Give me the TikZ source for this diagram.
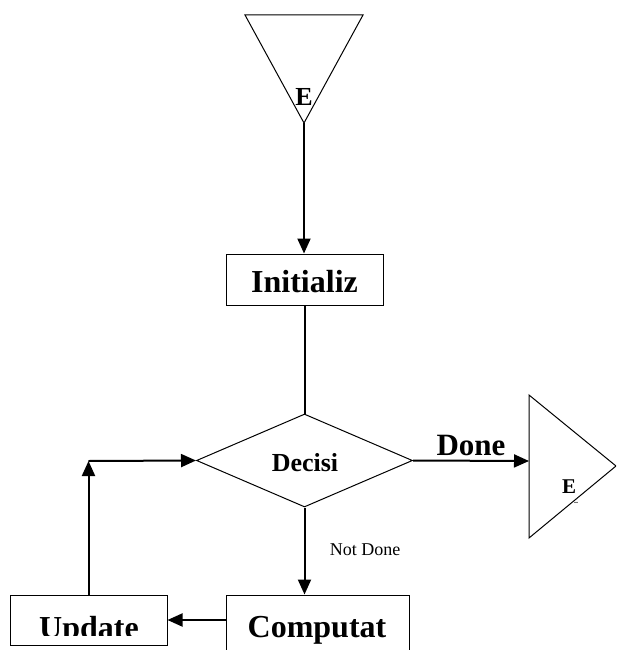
\documentclass[tikz,border=0pt]{standalone}
\usepackage{fontspec}
\setmainfont{Liberation Serif}
\usetikzlibrary{arrows.meta,shapes.geometric}
\tikzset{
  outl/.style={draw=black, line width=1pt},
  boxnode/.style={outl, rectangle, inner sep=0pt},
  conn/.style={draw=black, line width=2pt},
  arr/.style={conn, -{Triangle[length=15pt,width=13pt]}},
  bigtxt/.style={font=\fontsize{32}{32}\selectfont\bfseries, inner sep=0pt},
}
\begin{document}
\begin{tikzpicture}[x=1pt,y=-1pt]
\useasboundingbox (0,0) rectangle (616,650);
\clip (0,0) rectangle (616,650);
% start triangle
\coordinate (s1) at (245,15);
\coordinate (s2) at (363,15);
\coordinate (sapex) at (304,123);
\draw[outl, line join=miter] (s1) -- (s2) -- (sapex) -- cycle;
\node[font=\fontsize{26}{26}\selectfont\bfseries, inner sep=0pt] (startE) at (304,97) {E};
% initialize box
\node[boxnode, minimum width=157pt, minimum height=51pt] (init) at (304.5,279.5) {};
\node[bigtxt, anchor=base] (initT) at (304.5,292) {Initializ};
% decision diamond
\node[outl, diamond, minimum width=216pt, minimum height=93pt, inner sep=0pt] (dec) at (304.5,460.5) {};
\node[font=\fontsize{26}{26}\selectfont\bfseries, inner sep=0pt, anchor=base] (decT) at (305,471) {Decisi};
% end triangle
\coordinate (e1) at (529,395);
\coordinate (e2) at (529,538);
\coordinate (eapex) at (616,466);
\draw[outl, line join=miter] (e1) -- (eapex) -- (e2) -- cycle;
\coordinate (eleft) at (529,461);
\node[font=\fontsize{21}{21}\selectfont\bfseries, inner sep=0pt, anchor=base] (endE) at (569,493) {E};
\node[font=\fontsize{8}{8}\selectfont\bfseries, inner sep=0pt] (endDots) at (576,503) {..};
% computation box
\node[boxnode, minimum width=183pt, minimum height=70pt] (comp) at (317.5,630) {};
\node[bigtxt, anchor=base] (compT) at (317,637) {Computat};
% update box
\node[boxnode, minimum width=157pt, minimum height=50pt] (upd) at (88.5,620) {};
\begin{scope}
\clip (10,595) rectangle (167,635.5);
\node[bigtxt, anchor=base] (updT) at (89,638) {Update};
\end{scope}
% connectors
\draw[arr] (sapex) -- (sapex |- init.north);
\draw[conn] (init.south) -- (init.south |- dec.north);
\draw[arr] (dec.east) -- node[above=4pt, font=\fontsize{31}{31}\selectfont\bfseries, inner sep=0pt] (doneT) {Done} (eleft);
\draw[arr] (dec.south) -- (dec.south |- comp.north);
\node[font=\fontsize{18}{18}\selectfont, inner sep=0pt] (notdone) at (365,550) {Not Done};
\draw[arr] (comp.west |- upd.east) -- (upd.east);
\coordinate (corner) at (88.5,461);
\draw[arr] (upd.north) -- (corner);
\draw[arr] (corner) -- (dec.west);
\end{tikzpicture}
\end{document}
